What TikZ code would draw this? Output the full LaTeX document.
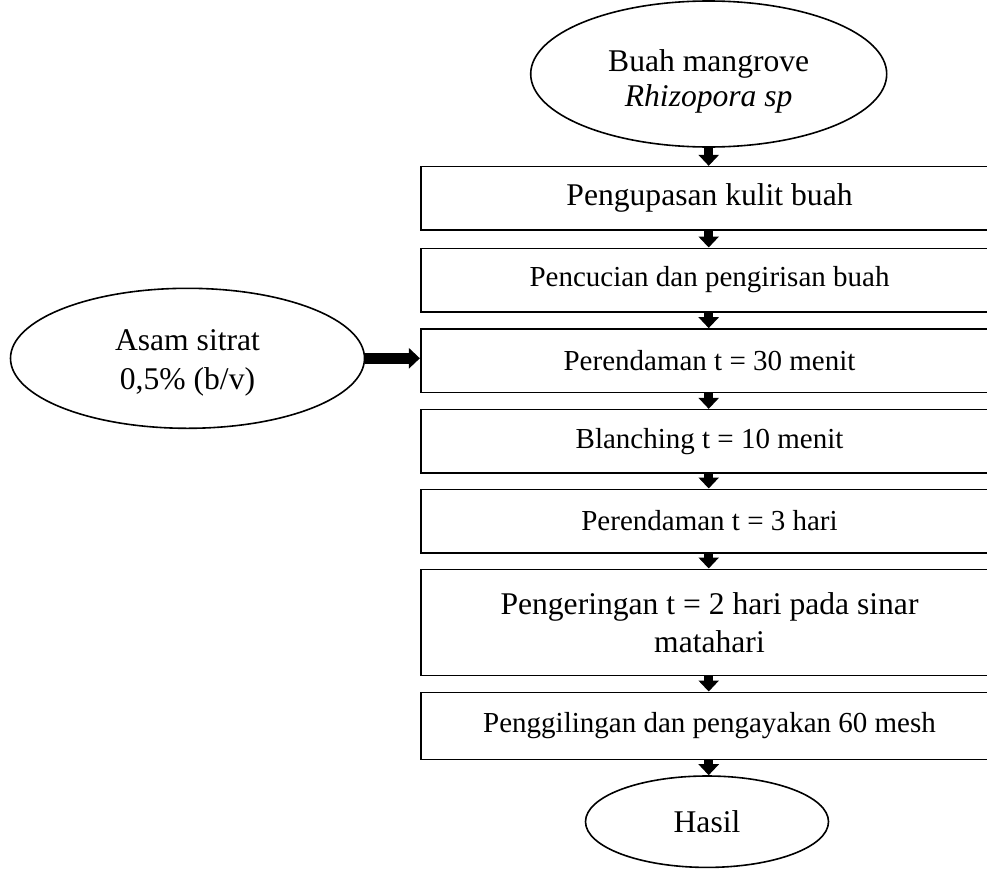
\documentclass[tikz,border=0pt]{standalone}
\usepackage{fontspec}
\setmainfont{Liberation Serif}
\usetikzlibrary{shapes.geometric,arrows.meta}

\newcommand{\bigtxt}{\fontsize{31.6}{35}\selectfont}
\newcommand{\smalltxt}{\fontsize{29}{33}\selectfont}

\tikzset{
  stepbox/.style={draw, line width=1.6pt, rectangle, inner sep=0pt,
    minimum width=577.6pt, minimum height=63.4pt, align=center},
  oval/.style={draw, line width=1.6pt, ellipse, inner sep=0pt, align=center},
  vflow/.style={line width=8.7pt, -{Triangle[width=20pt,length=11pt]}},
  hflow/.style={line width=10.5pt, -{Triangle[width=20pt,length=11pt]}},
}

\begin{document}
\begin{tikzpicture}[x=1pt, y=-1pt]
  \useasboundingbox (0,0) rectangle (987,870);
  \clip (0,0) rectangle (987,870);

  % start and end of the process
  \node[oval, minimum width=356pt, minimum height=146pt, font=\bigtxt,
    text height=72pt, text depth=6.6pt]
    (buah) at (708.7,74) {Buah mangrove\\\textit{Rhizopora sp}};
  \node[oval, minimum width=243pt, minimum height=91.4pt, font=\bigtxt]
    (hasil) at (707,821.7) {Hasil};

  % added reagent
  \node[oval, minimum width=354pt, minimum height=140pt,
    font=\fontsize{31.6}{38.5}\selectfont, text height=68pt, text depth=6.2pt]
    (asam) at (187.5,358.3) {Asam sitrat\\0,5\% (b/v)};

  % processing steps (the boxes run on past the right edge)
  \node[stepbox, font=\bigtxt] (s1) at (709.5,198.35) {Pengupasan kulit buah};
  \node[stepbox, font=\smalltxt] (s2) at (709.5,280) {Pencucian dan pengirisan buah};
  \node[stepbox, font=\smalltxt] (s3) at (709.5,360.65) {Perendaman t = 30 menit};
  \node[stepbox, font=\smalltxt] (s4) at (709.5,441.35) {Blanching t = 10 menit};
  \node[stepbox, font=\smalltxt] (s5) at (709.5,521) {Perendaman t = 3 hari};
  \node[stepbox, minimum height=106pt, font=\fontsize{31.6}{38}\selectfont]
    (s6) at (709.5,622.3) {Pengeringan t = 2 hari pada sinar\\matahari};
  \node[stepbox, minimum height=67pt, font=\smalltxt] (s7) at (709.5,725.8)
    {Penggilingan dan pengayakan 60 mesh};

  % flow arrows
  \draw[vflow] (buah.south) -- (buah.south |- s1.north);
  \draw[vflow] (s1.south -| buah.south) -- (s2.north -| buah.south);
  \draw[vflow] (s2.south -| buah.south) -- (s3.north -| buah.south);
  \draw[vflow] (s3.south -| buah.south) -- (s4.north -| buah.south);
  \draw[vflow] (s4.south -| buah.south) -- (s5.north -| buah.south);
  \draw[vflow] (s5.south -| buah.south) -- (s6.north -| buah.south);
  \draw[vflow] (s6.south -| buah.south) -- (s7.north -| buah.south);
  \draw[vflow] (s7.south -| buah.south) -- (hasil.north -| buah.south);
  \draw[hflow] (asam.east) -- (asam.east -| s3.west);
\end{tikzpicture}
\end{document}
